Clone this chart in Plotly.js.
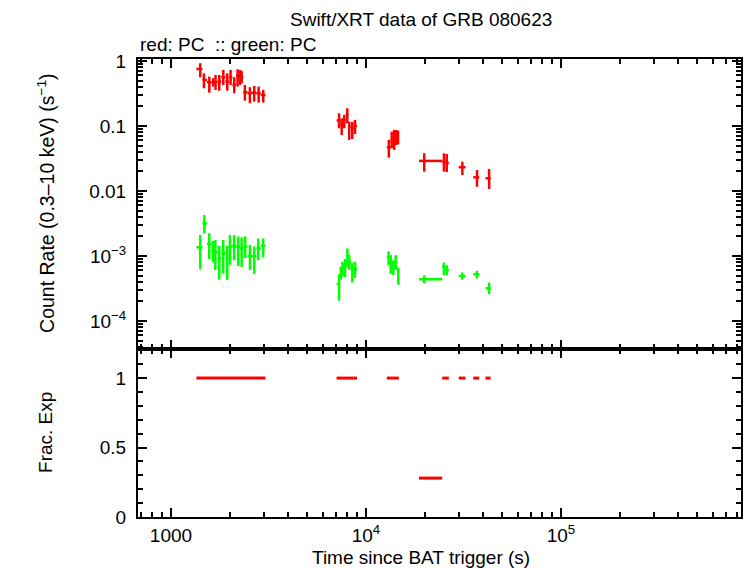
<!DOCTYPE html>
<html>
<head>
<meta charset="utf-8">
<script src="https://cdn.plot.ly/plotly-3.0.1.min.js"></script>
<style>
  html, body { margin: 0; padding: 0; background: #fff; }
  #chart { width: 746px; height: 568px; }
</style>
</head>
<body>
<div id="chart"></div>
<script>
// Swift/XRT light curve of GRB 080623: count rate (top) and fractional exposure (bottom)

// Red (PC) bins: mean time, bin start/stop (s), rate and its 1-sigma bounds (counts/s)
const redTime  = [1413, 1476, 1573, 1648, 1693, 1769, 1855, 1944, 2022, 2111, 2197, 2258, 2303, 2393, 2539, 2673, 2816, 2973,
                  7278, 7508, 7738, 8020, 8204, 8506, 8785,
                  13100, 13550, 13950, 14300, 14600,
                  19900, 25100, 25950, 31200, 37100, 42800];
const redStart = [1350, 1450, 1530, 1615, 1670, 1730, 1810, 1900, 1985, 2065, 2155, 2230, 2280, 2350, 2470, 2600, 2740, 2890,
                  7070, 7400, 7620, 7880, 8120, 8350, 8650,
                  12790, 13400, 13780, 14150, 14450,
                  18700, 24600, 25600, 29900, 35500, 41000];
const redStop  = [1450, 1530, 1615, 1670, 1730, 1810, 1900, 1985, 2065, 2155, 2230, 2280, 2350, 2470, 2600, 2740, 2890, 3050,
                  7400, 7620, 7880, 8120, 8350, 8650, 9000,
                  13400, 13780, 14150, 14450, 14750,
                  24600, 25600, 26600, 32400, 38100, 43600];
const redRate  = [0.753, 0.510, 0.470, 0.470, 0.470, 0.481, 0.561, 0.481, 0.561, 0.427, 0.588, 0.573, 0.561, 0.330, 0.319, 0.325, 0.319, 0.300,
                  0.121, 0.104, 0.124, 0.148, 0.0976, 0.0922, 0.100,
                  0.047, 0.061, 0.061, 0.0685, 0.0685,
                  0.029, 0.028, 0.027, 0.0232, 0.0162, 0.0157];
const redHi    = [0.922, 0.646, 0.573, 0.542, 0.609, 0.609, 0.727, 0.646, 0.727, 0.561, 0.745, 0.727, 0.700, 0.427, 0.394, 0.413, 0.403, 0.358,
                  0.157, 0.131, 0.148, 0.187, 0.116, 0.116, 0.124,
                  0.061, 0.0817, 0.0868, 0.0868, 0.085,
                  0.038, 0.038, 0.037, 0.0282, 0.0210, 0.0218];
const redLo    = [0.561, 0.380, 0.325, 0.403, 0.358, 0.349, 0.427, 0.349, 0.427, 0.318, 0.403, 0.427, 0.450, 0.245, 0.223, 0.237, 0.229, 0.229,
                  0.0922, 0.0727, 0.0922, 0.110, 0.061, 0.063, 0.0753,
                  0.0325, 0.0454, 0.0428, 0.0509, 0.052,
                  0.0198, 0.0198, 0.0195, 0.0176, 0.0116, 0.0107];
// Fractional exposure of each red bin
const redFracExp = [1, 1, 1, 1, 1, 1, 1, 1, 1, 1, 1, 1, 1, 1, 1, 1, 1, 1,
                    1, 1, 1, 1, 1, 1, 1,
                    1, 1, 1, 1, 1,
                    0.28, 1, 1, 1, 1, 1];

// Green (PC) bins
const greenTime  = [1413, 1483, 1572, 1642, 1688, 1769, 1853, 1944, 2006, 2110, 2212, 2304, 2403, 2542, 2675, 2800, 2972,
                    7278, 7430, 7570, 7810, 8030, 8220, 8510, 8785,
                    13060, 13390, 13810, 14200, 14650,
                    19900, 25100, 25950, 31200, 37100, 42800];
const greenStart = [1350, 1450, 1530, 1610, 1665, 1730, 1810, 1900, 1975, 2060, 2160, 2260, 2350, 2470, 2610, 2740, 2890,
                    7070, 7350, 7500, 7690, 7920, 8120, 8350, 8650,
                    12790, 13250, 13600, 14000, 14420,
                    18700, 24600, 25600, 29900, 35500, 41000];
const greenStop  = [1450, 1530, 1610, 1665, 1730, 1810, 1900, 1975, 2060, 2160, 2260, 2350, 2470, 2610, 2740, 2890, 3050,
                    7350, 7500, 7690, 7920, 8120, 8350, 8650, 9000,
                    13250, 13600, 14000, 14420, 14750,
                    24600, 25600, 26600, 32400, 38100, 43600];
const greenRate  = [1.36e-3, 3.18e-3, 1.53e-3, 1.21e-3, 1.16e-3, 9.2e-4, 1.10e-3, 9.2e-4, 1.39e-3, 1.44e-3, 1.39e-3, 1.31e-3, 1.39e-3, 1.0e-3, 1.0e-3, 1.3e-3, 1.43e-3,
                    3.71e-4, 5.42e-4, 6.47e-4, 6.86e-4, 1.0e-3, 8.0e-4, 6.24e-4, 6.24e-4,
                    9.55e-4, 8.18e-4, 6.86e-4, 8.0e-4, 5.1e-4,
                    4.38e-4, 6.86e-4, 6.09e-4, 4.92e-4, 5.23e-4, 3.18e-4];
const greenHi    = [2.10e-3, 4.28e-3, 2.23e-3, 1.70e-3, 1.76e-3, 1.43e-3, 1.76e-3, 1.43e-3, 2.10e-3, 2.10e-3, 2.0e-3, 1.94e-3, 2.0e-3, 1.48e-3, 1.40e-3, 1.86e-3, 1.86e-3,
                    5.23e-4, 6.8e-4, 8.2e-4, 9.0e-4, 1.3e-3, 1.03e-3, 7.9e-4, 8.1e-4,
                    1.18e-3, 1.03e-3, 8.6e-4, 1.03e-3, 6.6e-4,
                    5.05e-4, 7.9e-4, 7.2e-4, 5.6e-4, 5.9e-4, 3.9e-4];
const greenLo    = [6.3e-4, 2.23e-3, 9.0e-4, 8.0e-4, 6.1e-4, 4.3e-4, 5.4e-4, 4.3e-4, 7.3e-4, 8.6e-4, 7.0e-4, 6.8e-4, 9.3e-4, 6.1e-4, 5.3e-4, 8.6e-4, 9.5e-4,
                    2.05e-4, 4.3e-4, 4.8e-4, 4.7e-4, 6.7e-4, 6.1e-4, 3.9e-4, 4.6e-4,
                    7.2e-4, 5.3e-4, 5.1e-4, 6.1e-4, 3.6e-4,
                    3.8e-4, 5.1e-4, 5.1e-4, 4.3e-4, 4.5e-4, 2.6e-4];

// Tick labels
const xTickVals  = [1000, 1e4, 1e5];
const xTickText  = ['1000', '10<sup>4</sup>', '10<sup>5</sup>'];
const yTickVals  = [1e-4, 1e-3, 0.01, 0.1, 1];
const yTickText  = ['10<sup>−4</sup>', '10<sup>−3</sup>', '0.01', '0.1', '1'];
const y2TickVals = [0, 0.5, 1];
const y2TickText = ['0', '0.5', '1'];

const RED = 'rgb(255,0,0)';
const GREEN = 'rgb(0,255,0)';
const FONT = 'Liberation Sans, Arial, Helvetica, sans-serif';

// Log minor ticks: 2..9 times each decade, clipped to the axis span
function logMinors(lo, hi) {
  const out = [];
  for (let e = Math.floor(Math.log10(lo)); e <= Math.ceil(Math.log10(hi)); e++) {
    for (let m = 2; m <= 9; m++) {
      const v = m * Math.pow(10, e);
      if (v > lo && v < hi) out.push(v);
    }
  }
  return out;
}

const xLo = Math.pow(10, 2.831), xHi = Math.pow(10, 5.923);
const yLo = Math.pow(10, -4.43), yHi = Math.pow(10, 0.03);

// Crosses: horizontal bar spans the bin, vertical bar spans the 1-sigma range
function errTrace(t, start, stop, val, hi, lo, color, xa, ya) {
  return {
    type: 'scatter', mode: 'markers', x: t, y: val, xaxis: xa, yaxis: ya,
    marker: { size: 0.1, color: color, opacity: 0 },
    error_x: { type: 'data', symmetric: false,
               array: t.map((v, i) => stop[i] - v),
               arrayminus: t.map((v, i) => v - start[i]),
               color: color, thickness: 2.5, width: 0 },
    error_y: { type: 'data', symmetric: false,
               array: val.map((v, i) => hi[i] - v),
               arrayminus: val.map((v, i) => v - lo[i]),
               color: color, thickness: 2.5, width: 0 },
    hoverinfo: 'skip', showlegend: false
  };
}

// Fractional exposure: flat segment per bin; abutting bins of equal value join into one run
const fx = [], fy = [];
redStart.forEach((s, i) => {
  const joins = i > 0 && s === redStop[i - 1] && redFracExp[i] === redFracExp[i - 1];
  if (joins) {
    fx.push(redStop[i]); fy.push(redFracExp[i]);
  } else {
    if (i > 0) { fx.push(null); fy.push(null); }
    fx.push(s, redStop[i]); fy.push(redFracExp[i], redFracExp[i]);
  }
});

const traces = [
  errTrace(greenTime, greenStart, greenStop, greenRate, greenHi, greenLo, GREEN, 'x2', 'y'),
  errTrace(redTime, redStart, redStop, redRate, redHi, redLo, RED, 'x2', 'y'),
  { type: 'scatter', mode: 'lines', x: fx, y: fy, xaxis: 'x', yaxis: 'y2',
    line: { color: RED, width: 3 }, connectgaps: false, hoverinfo: 'skip', showlegend: false }
];

const axisCommon = {
  showline: true, linecolor: '#000', linewidth: 2,
  ticks: 'inside', ticklen: 9, tickwidth: 2, tickcolor: '#000',
  mirror: 'allticks', showgrid: false, zeroline: false,
  tickfont: { family: FONT, size: 19, color: '#000' }
};

const xAxisBase = Object.assign({}, axisCommon, {
  type: 'log', range: [2.831, 5.923],
  tickmode: 'array', tickvals: xTickVals, ticktext: xTickText,
  minor: { tickmode: 'array', tickvals: logMinors(xLo, xHi), ticks: 'inside',
           ticklen: 5, tickwidth: 2, tickcolor: '#000', showgrid: false },
  ticklabelstandoff: 0
});

const layout = {
  width: 746, height: 568,
  margin: { l: 138, r: 5, t: 59, b: 51 },
  paper_bgcolor: '#fff', plot_bgcolor: '#fff',
  font: { family: FONT, size: 19, color: '#000' },
  showlegend: false,
  xaxis: Object.assign({}, xAxisBase, { anchor: 'y2', domain: [0, 1] }),
  xaxis2: Object.assign({}, xAxisBase, { anchor: 'y', matches: 'x', showticklabels: false }),
  yaxis: Object.assign({}, axisCommon, {
    type: 'log', range: [-4.43, 0.03], domain: [0.367, 1], anchor: 'x2',
    tickmode: 'array', tickvals: yTickVals, ticktext: yTickText,
    minor: { tickmode: 'array', tickvals: logMinors(yLo, yHi), ticks: 'inside',
             ticklen: 5, tickwidth: 2, tickcolor: '#000', showgrid: false },
    ticklabelstandoff: 6
  }),
  yaxis2: Object.assign({}, axisCommon, {
    range: [0, 1.21], domain: [0, 0.367], anchor: 'x',
    tickmode: 'array', tickvals: y2TickVals, ticktext: y2TickText,
    minor: { dtick: 0.1, tick0: 0, ticks: 'inside', ticklen: 5, tickwidth: 2,
             tickcolor: '#000', showgrid: false },
    ticklabelstandoff: 6
  }),
  annotations: [
    { text: 'Swift/XRT data of GRB 080623', xref: 'paper', yref: 'paper',
      x: 0.469, y: 1, yshift: 40, xanchor: 'center', yanchor: 'middle',
      showarrow: false, font: { family: FONT, size: 19 } },
    { text: 'red: PC  :: green: PC', xref: 'paper', yref: 'paper',
      x: 0, y: 1, yshift: 15, xanchor: 'left', yanchor: 'middle',
      showarrow: false, font: { family: FONT, size: 19 } },
    { text: 'Count Rate (0.3–10 keV) (s<sup>−1</sup>)', xref: 'paper', yref: 'paper',
      x: 0, xshift: -92, y: 0.6835, textangle: -90, xanchor: 'center', yanchor: 'middle',
      showarrow: false, font: { family: FONT, size: 19.5 } },
    { text: 'Frac. Exp', xref: 'paper', yref: 'paper',
      x: 0, xshift: -92, y: 0.1835, textangle: -90, xanchor: 'center', yanchor: 'middle',
      showarrow: false, font: { family: FONT, size: 19 } },
    { text: 'Time since BAT trigger (s)', xref: 'paper', yref: 'paper',
      x: 0.469, y: 0, yshift: -40, xanchor: 'center', yanchor: 'middle',
      showarrow: false, font: { family: FONT, size: 19 } }
  ]
};

Plotly.newPlot('chart', traces, layout, { staticPlot: true, displayModeBar: false });
</script>
</body>
</html>
